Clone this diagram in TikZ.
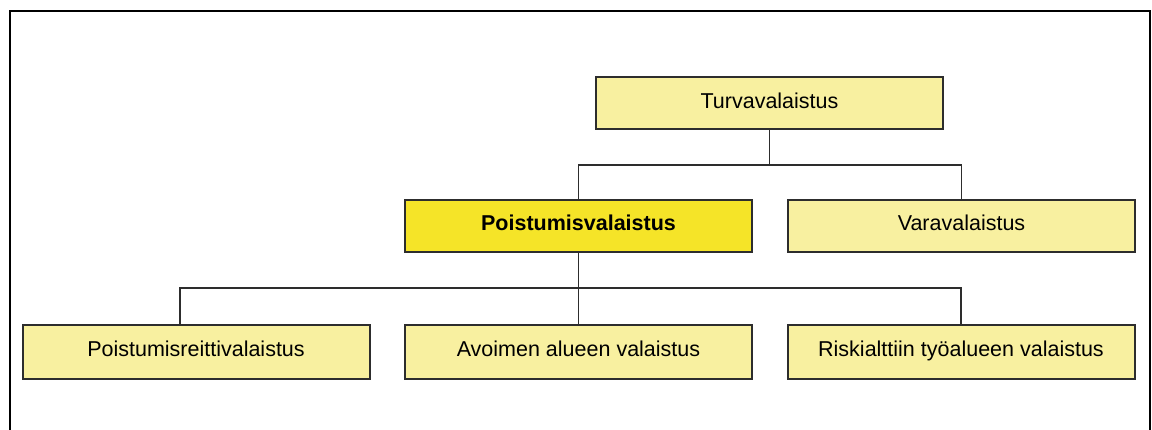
\documentclass[tikz,border=0pt]{standalone}
\usepackage{fontspec}
\setmainfont{Liberation Sans}
\definecolor{lightbox}{RGB}{248,240,160}
\definecolor{boldbox}{RGB}{245,228,40}
\definecolor{edgegray}{RGB}{45,45,45}
\begin{document}
\begin{tikzpicture}[x=1pt,y=-1pt,
  boxstyle/.style={draw=edgegray,line width=2pt,fill=lightbox,minimum width=347pt,minimum height=52pt,inner sep=0pt,text height=16pt,text depth=6pt,font=\fontsize{21.5}{25}\selectfont},
  keybox/.style={boxstyle,fill=boldbox,font=\fontsize{21.5}{25}\selectfont\bfseries},
  link/.style={draw=edgegray,line width=1.8pt}]
\useasboundingbox (0,0) rectangle (1152,430);
\fill[white] (0,0) rectangle (1152,430);
\draw[line width=2.5pt,black] (10,432) -- (10,11) -- (1150,11) -- (1150,432);
\node[boxstyle] (turva) at (769.5,103.5) {Turvavalaistus};
\node[keybox] (poist) at (578.5,226) {Poistumisvalaistus};
\node[boxstyle] (vara) at (961.5,226) {Varavalaistus};
\node[boxstyle,minimum height=54pt] (reitti) at (196,352) {Poistumisreittivalaistus};
\node[boxstyle,minimum height=54pt] (avoin) at (578.5,352) {Avoimen alueen valaistus};
\node[boxstyle,minimum height=54pt] (riski) at (961,352) {Riskialttiin työalueen valaistus};
\coordinate (j1) at (769.5,165);
\coordinate (j2) at (578.5,288);
\draw[link] (turva.south) -- (j1);
\draw[link] (poist.north) |- (j1) -| (vara.north);
\draw[link] (poist.south) -- (avoin.north);
\draw[link] (reitti.north -| 180,0) |- (j2) -| (riski.north);
\end{tikzpicture}
\end{document}
